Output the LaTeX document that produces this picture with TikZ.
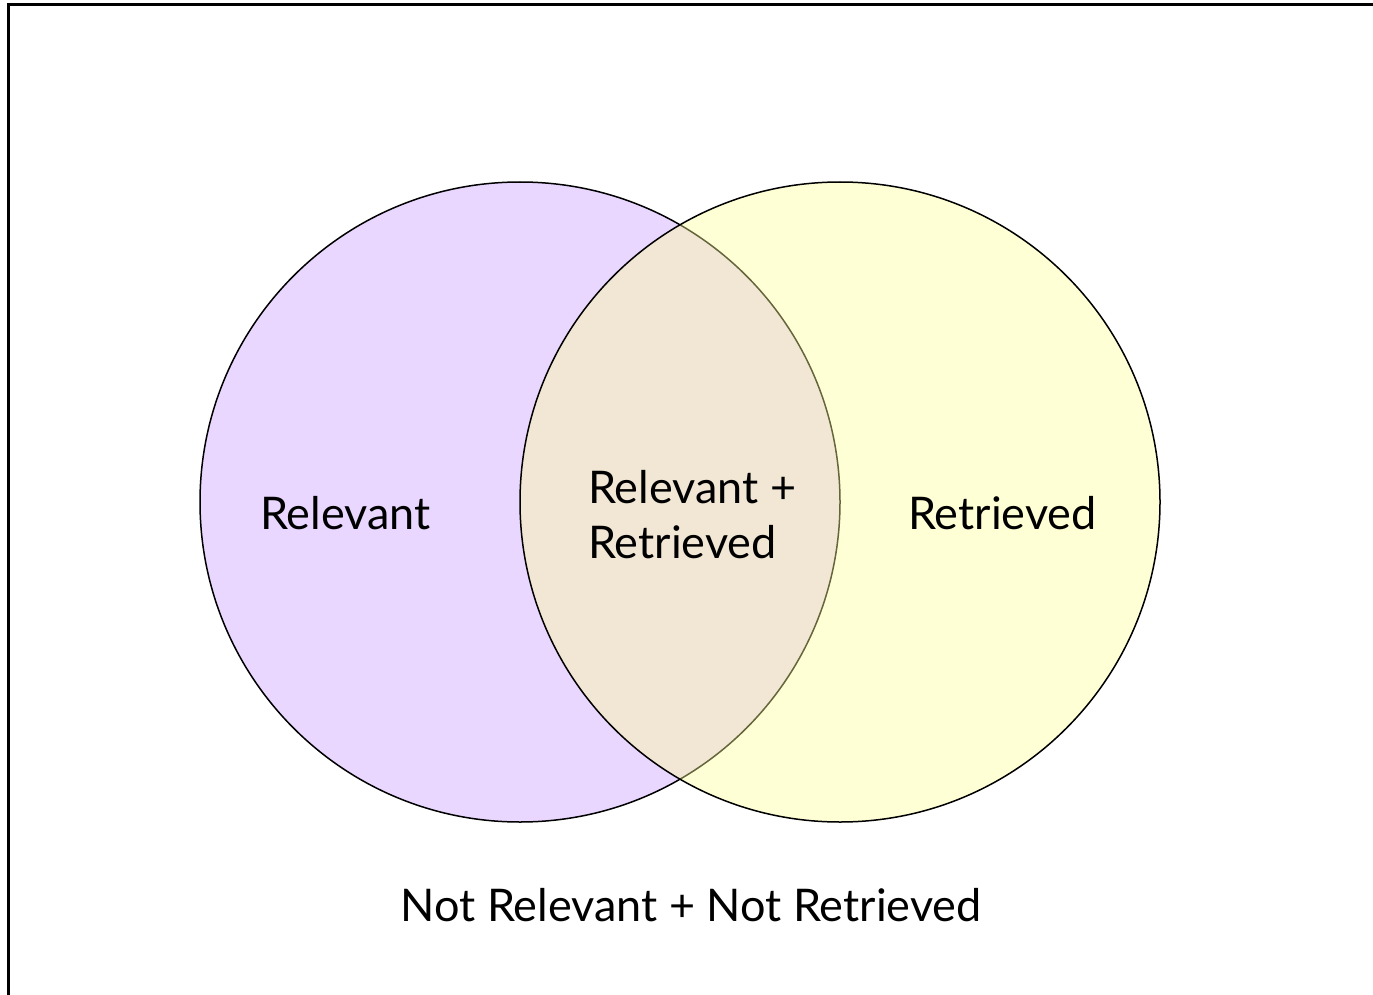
\documentclass[tikz,border=0pt]{standalone}
\usepackage{fontspec}
\setmainfont{Lato}
\definecolor{relpurple}{RGB}{234,215,255}
\definecolor{retyellow}{RGB}{255,255,150}
\begin{document}
\begin{tikzpicture}[x=1pt,y=-1pt,
  settext/.style={font=\fontsize{45}{55}\selectfont, inner sep=0pt, text=black},
  setcircle/.style={circle, minimum size=640pt, inner sep=0pt, line width=1.5pt}]
\useasboundingbox (0,0) rectangle (1373,995);
\clip (0,0) rectangle (1373,995);
\draw[line width=3pt] (8,5) rectangle (1390,1010);
\node[setcircle, draw=black, fill=relpurple] (rel) at (520,502) {};
\node[setcircle, draw=black, fill=retyellow, fill opacity=0.4, draw opacity=1] (ret) at (840,502) {};
\node[settext, anchor=west] (lrel) at (260,513) {Relevant};
\node[settext, anchor=west] (lret) at (908,513) {Retrieved};
\node[settext, anchor=west, align=left] (lboth) at (588,515) {Relevant +\\Retrieved};
\node[settext] (lnot) at (691,905) {Not Relevant + Not Retrieved};
\end{tikzpicture}
\end{document}
